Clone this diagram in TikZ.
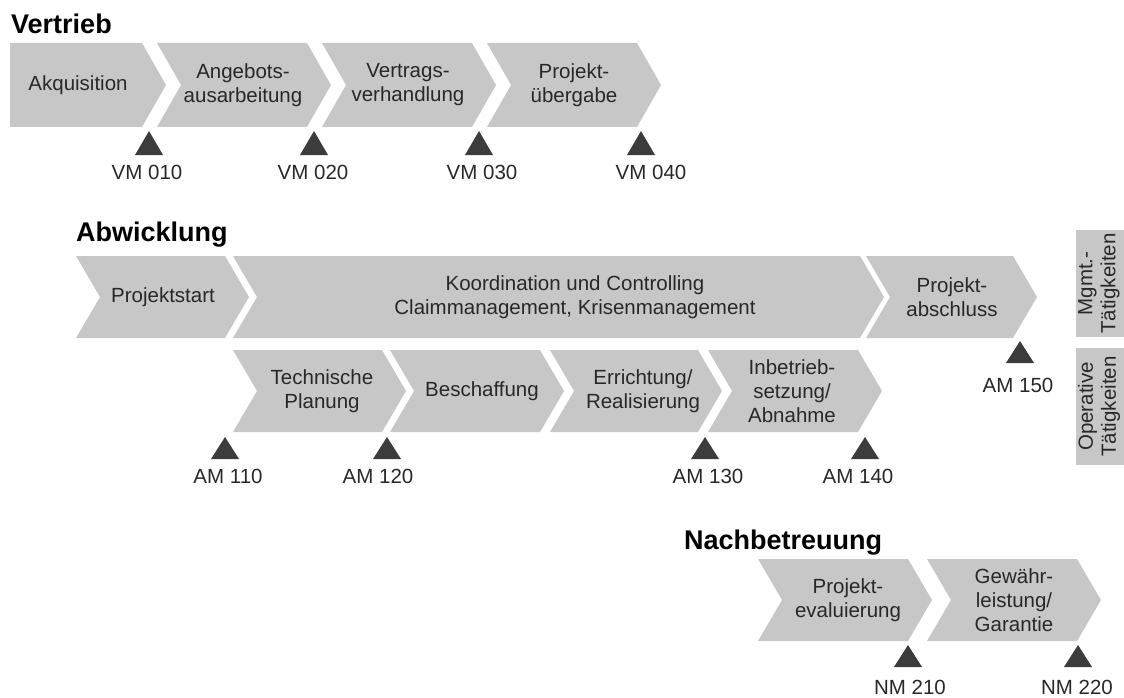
\documentclass[tikz,border=0pt]{standalone}
\usepackage{fontspec}
\setmainfont{Liberation Sans}
\usetikzlibrary{calc}
\definecolor{chevfill}{RGB}{199,199,199}
\definecolor{msgray}{RGB}{60,60,60}
\definecolor{txtgray}{RGB}{40,40,40}

% chevron: name, left x, right x (top corner), top y, bottom y, notch depth, text x, text
\newcommand\chev[8]{%
  \pgfmathsetmacro\chevym{(#4+#5)/2}%
  \pgfmathsetmacro\chevxt{#3+24}%
  \pgfmathsetmacro\chevxn{#2+#6}%
  \fill[chevfill] (#2,#4) -- (#3,#4) -- (\chevxt,\chevym) -- (#3,#5) -- (#2,#5) -- (\chevxn,\chevym) -- cycle;
  \node[chevtext] (#1) at (#7,\chevym) {#8};%
}
% milestone: name, x, top y, height, label x, label y, label
\newcommand\milestone[7]{%
  \fill[msgray] ($(#2,#3)+(-14,#4)$) -- (#2,#3) -- ($(#2,#3)+(14,#4)$) -- cycle;
  \node[mslabel] (#1) at (#5,#6) {#7};%
}

\begin{document}
\begin{tikzpicture}[x=1pt,y=-1pt,
  chevtext/.style={font=\fontsize{20.5}{24}\selectfont, text=txtgray, align=center, inner sep=0pt},
  mslabel/.style={font=\fontsize{20.5}{24}\selectfont, text=txtgray, inner sep=0pt},
  title/.style={font=\fontsize{27}{32}\selectfont\bfseries, text=black, anchor=west, inner sep=0pt},
  sidetext/.style={font=\fontsize{20.5}{23}\selectfont, text=txtgray, align=center, inner sep=0pt, rotate=90}]
\useasboundingbox (0,0) rectangle (1124,698);

% Vertrieb
\node[title] (tV) at (11,24) {Vertrieb};
\chev{v1}{10}{142}{43}{127}{0}{78}{Akquisition}
\chev{v2}{157}{307}{43}{127}{24}{243}{Angebots-\\ausarbeitung}
\chev{v3}{322}{472}{43}{127}{24}{408}{Vertrags-\\verhandlung}
\chev{v4}{487}{637}{43}{127}{24}{574}{Projekt-\\übergabe}
\milestone{vm1}{149}{131}{24}{147}{172}{VM 010}
\milestone{vm2}{314}{131}{24}{313}{172}{VM 020}
\milestone{vm3}{479}{131}{24}{482}{172}{VM 030}
\milestone{vm4}{641}{131}{24}{651}{172}{VM 040}

% Abwicklung
\node[title] (tA) at (76,235) {Abwicklung};
\chev{a1}{76}{225}{256}{338}{24}{163}{Projektstart}
\chev{a2}{233}{860}{256}{338}{24}{575}{Koordination und Controlling\\Claimmanagement, Krisenmanagement}
\chev{a3}{866}{1013}{256}{338}{24}{952}{Projekt-\\abschluss}
\chev{b1}{233}{382}{350}{432}{24}{322}{Technische\\Planung}
\chev{b2}{390}{540}{350}{432}{24}{482}{Beschaffung}
\chev{b3}{550}{698}{350}{432}{24}{643}{Errichtung/\\Realisierung}
\chev{b4}{708}{858}{350}{432}{24}{792}{Inbetrieb-\\setzung/\\Abnahme}
\milestone{am1}{225}{437}{22}{228}{476}{AM 110}
\milestone{am2}{387}{437}{22}{378}{476}{AM 120}
\milestone{am3}{705}{437}{22}{708}{476}{AM 130}
\milestone{am4}{865}{437}{22}{858}{476}{AM 140}
\milestone{am5}{1020}{341}{22}{1018}{385}{AM 150}

% side labels
\fill[chevfill] (1076,230) rectangle (1124,337);
\node[sidetext] (sMg) at (1099,283.5) {Mgmt.-\\Tätigkeiten};
\fill[chevfill] (1076,348) rectangle (1124,465);
\node[sidetext] (sOp) at (1099,406.5) {Operative\\Tätigkeiten};

% Nachbetreuung
\node[title] (tN) at (684,543) {Nachbetreuung};
\chev{n1}{758}{908}{559}{641}{24}{848}{Projekt-\\evaluierung}
\chev{n2}{927}{1077}{559}{641}{24}{1014}{Gewähr-\\leistung/\\Garantie}
\milestone{nm1}{908}{645}{22}{910}{687}{NM 210}
\milestone{nm2}{1078}{645}{22}{1077}{687}{NM 220}
\end{tikzpicture}
\end{document}
